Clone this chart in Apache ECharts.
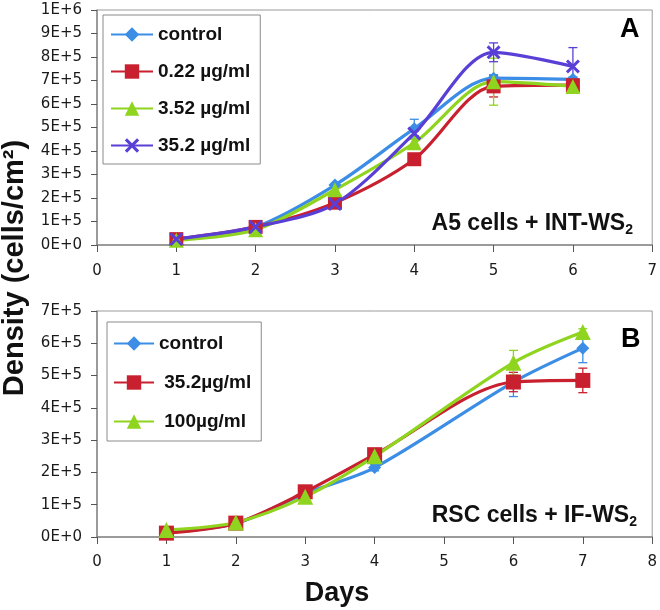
<!DOCTYPE html>
<html>
<head>
<meta charset="utf-8">
<script src="https://cdn.jsdelivr.net/npm/echarts@6/dist/echarts.min.js"></script>
<style>html,body{margin:0;padding:0;background:#fff}#c{width:660px;height:610px}</style>
</head>
<body>
<div id="c"></div>
<script>
// ---------- Panel A data ----------
const daysA = [1, 2, 3, 4, 5, 6];
const controlA = [25000, 77000, 255000, 495000, 710000, 705000];
const dose022A = [25000, 77000, 180000, 365000, 675000, 680000];
const dose352A = [20000, 65000, 235000, 435000, 695000, 675000];
const dose35A = [25000, 77000, 175000, 475000, 820000, 760000];
const controlAErr = [0, 0, 0, 40000, 15000, 10000];
const dose022AErr = [0, 0, 0, 10000, 45000, 15000];
const dose352AErr = [0, 0, 0, 15000, 100000, 15000];
const dose35AErr = [0, 0, 0, 10000, 40000, 80000];
const namesA = ['control', '0.22 µg/ml', '3.52 µg/ml', '35.2 µg/ml'];
const yTicksA = ['0E+0','1E+5','2E+5','3E+5','4E+5','5E+5','6E+5','7E+5','8E+5','9E+5','1E+6'];
const xTicksA = ['0','1','2','3','4','5','6','7'];

// ---------- Panel B data ----------
const daysB = [1, 2, 3, 4, 6, 7];
const controlB = [15000, 42000, 135000, 215000, 480000, 585000];
const dose35B = [12000, 43000, 140000, 255000, 480000, 485000];
const dose100B = [22000, 45000, 125000, 250000, 540000, 635000];
const controlBErr = [0, 0, 0, 10000, 45000, 45000];
const dose35BErr = [0, 0, 0, 10000, 30000, 38000];
const dose100BErr = [0, 0, 0, 20000, 38000, 10000];
const namesB = ['control', ' 35.2µg/ml', ' 100µg/ml'];
const yTicksB = ['0E+0','1E+5','2E+5','3E+5','4E+5','5E+5','6E+5','7E+5'];
const xTicksB = ['0','1','2','3','4','5','6','7','8'];

const BLUE = '#3c8de6', RED = '#c9202f', GREEN = '#8fd41e', PURPLE = '#5a3fd6';
const XPATH = 'path://M0,1.5L1.5,0L5,3.5L8.5,0L10,1.5L6.5,5L10,8.5L8.5,10L5,6.5L1.5,10L0,8.5L3.5,5Z';

const chart = echarts.init(document.getElementById('c'), null, {renderer: 'canvas'});

const labelFont = {fontFamily: 'DejaVu Sans', fontSize: 15, color: '#1a1a1a'};
function xAxes(gridIndex, max, ticks, margin) {
  const base = {
    gridIndex, type: 'value', min: 0, max, interval: 1,
    splitLine: {show: false}
  };
  return [
    Object.assign({}, base, {
      axisLine: {show: true, onZero: false, lineStyle: {color: '#8a8a8a', width: 1.5}},
      axisTick: {show: true, length: 7, lineStyle: {color: '#555', width: 1}},
      axisLabel: Object.assign({margin, formatter: v => ticks[Math.round(v)]}, labelFont)
    }),
    Object.assign({}, base, {
      axisLine: {show: false},
      axisTick: {show: true, inside: true, length: 7, lineStyle: {color: '#555', width: 1}},
      axisLabel: {show: false}
    })
  ];
}
function yAxes(gridIndex, max, ticks) {
  const base = {
    gridIndex, type: 'value', min: 0, max, interval: 100000,
    splitLine: {show: false}
  };
  return [
    Object.assign({}, base, {
      axisLine: {show: true, onZero: false, lineStyle: {color: '#8a8a8a', width: 1.5}},
      axisTick: {show: true, length: 6, lineStyle: {color: '#555', width: 1}},
      axisLabel: Object.assign({margin: 15, formatter: v => ticks[Math.round(v / 100000)]}, labelFont)
    }),
    Object.assign({}, base, {
      axisLine: {show: false},
      axisTick: {show: true, inside: true, length: 6, lineStyle: {color: '#555', width: 1}},
      axisLabel: {show: false}
    })
  ];
}

function lineSeries(name, days, vals, color, symbol, size, xi, yi) {
  return {
    type: 'line', name, xAxisIndex: xi, yAxisIndex: yi,
    data: days.map((d, i) => [d, vals[i]]),
    smooth: 0.3, symbol, symbolSize: size,
    lineStyle: {color, width: 3.2},
    itemStyle: {color},
    z: 3
  };
}
function errSeries(days, vals, errs, color, xi, yi) {
  return {
    type: 'custom', xAxisIndex: xi, yAxisIndex: yi, silent: true, z: 2,
    data: days.map((d, i) => [d, vals[i], errs[i]]).filter(r => r[2] > 0),
    renderItem: function (params, api) {
      const x = api.value(0), y = api.value(1), e = api.value(2);
      const t = api.coord([x, y + e]), b = api.coord([x, y - e]);
      const w = 4.5;
      const st = {stroke: color, lineWidth: 1.3};
      return {type: 'group', children: [
        {type: 'line', shape: {x1: t[0], y1: t[1], x2: b[0], y2: b[1]}, style: st},
        {type: 'line', shape: {x1: t[0] - w, y1: t[1], x2: t[0] + w, y2: t[1]}, style: st},
        {type: 'line', shape: {x1: b[0] - w, y1: b[1], x2: b[0] + w, y2: b[1]}, style: st}
      ]};
    }
  };
}

const legendText = {fontFamily: 'Liberation Sans', fontWeight: 'bold', fontSize: 19, color: '#111'};

const option = {
  animation: false,
  backgroundColor: '#fff',
  grid: [
    {left: 97, top: 10, width: 556, height: 235, show: true, borderColor: '#9a9a9a', borderWidth: 1},
    {left: 97, top: 311, width: 556, height: 226, show: true, borderColor: '#9a9a9a', borderWidth: 1}
  ],
  xAxis: [].concat(xAxes(0, 7, xTicksA, 19), xAxes(1, 8, xTicksB, 18)),
  yAxis: [].concat(yAxes(0, 1000000, yTicksA), yAxes(1, 700000, yTicksB)),
  legend: [
    {
      data: namesA, orient: 'vertical', left: 103, top: 15,
      itemWidth: 42, itemHeight: 18, itemGap: 18,
      padding: [10, 10, 9, 7],
      backgroundColor: '#fff', borderColor: '#8a8a8a', borderWidth: 1,
      textStyle: legendText
    },
    {
      data: namesB, orient: 'vertical', left: 107, top: 322,
      itemWidth: 40, itemHeight: 18, itemGap: 20,
      padding: [12, 10, 10, 6],
      backgroundColor: '#fff', borderColor: '#8a8a8a', borderWidth: 1,
      textStyle: legendText
    }
  ],
  series: [
    errSeries(daysA, controlA, controlAErr, BLUE, 0, 0),
    errSeries(daysA, dose022A, dose022AErr, RED, 0, 0),
    errSeries(daysA, dose352A, dose352AErr, GREEN, 0, 0),
    errSeries(daysA, dose35A, dose35AErr, PURPLE, 0, 0),
    lineSeries(namesA[0], daysA, controlA, BLUE, 'diamond', 13, 0, 0),
    lineSeries(namesA[1], daysA, dose022A, RED, 'rect', 14, 0, 0),
    lineSeries(namesA[2], daysA, dose352A, GREEN, 'triangle', 15, 0, 0),
    lineSeries(namesA[3], daysA, dose35A, PURPLE, XPATH, 14, 0, 0),
    errSeries(daysB, controlB, controlBErr, BLUE, 2, 2),
    errSeries(daysB, dose35B, dose35BErr, RED, 2, 2),
    errSeries(daysB, dose100B, dose100BErr, GREEN, 2, 2),
    lineSeries(namesB[0], daysB, controlB, BLUE, 'diamond', 13, 2, 2),
    lineSeries(namesB[1], daysB, dose35B, RED, 'rect', 15, 2, 2),
    lineSeries(namesB[2], daysB, dose100B, GREEN, 'triangle', 16, 2, 2)
  ],
  graphic: [
    {type: 'text', left: 620, top: 16, style: {text: 'A', font: 'bold 27px "Liberation Sans"', fill: '#000'}},
    {type: 'text', left: 621, top: 326, style: {text: 'B', font: 'bold 27px "Liberation Sans"', fill: '#000'}},
    {type: 'text', x: 633, y: 224, style: {
      text: '{a|A5 cells + INT-WS}{s|2}', align: 'right', verticalAlign: 'middle',
      rich: {
        a: {font: 'bold 23px "Liberation Sans"', fill: '#111', height: 26},
        s: {font: 'bold 14px "Liberation Sans"', fill: '#111', padding: [12, 0, 0, 0]}
      }
    }},
    {type: 'text', x: 637, y: 516, style: {
      text: '{a|RSC cells + IF-WS}{s|2}', align: 'right', verticalAlign: 'middle',
      rich: {
        a: {font: 'bold 23px "Liberation Sans"', fill: '#111', height: 26},
        s: {font: 'bold 14px "Liberation Sans"', fill: '#111', padding: [12, 0, 0, 0]}
      }
    }},
    {type: 'text', x: 337, y: 594, style: {text: 'Days', align: 'center', verticalAlign: 'middle', font: 'bold 27px "Liberation Sans"', fill: '#111'}},
    {type: 'text', x: 15, y: 268, rotation: Math.PI / 2, style: {text: 'Density (cells/cm²)', align: 'center', verticalAlign: 'middle', font: 'bold 29px "Liberation Sans"', fill: '#111'}}
  ]
};
chart.setOption(option);
</script>
</body>
</html>
